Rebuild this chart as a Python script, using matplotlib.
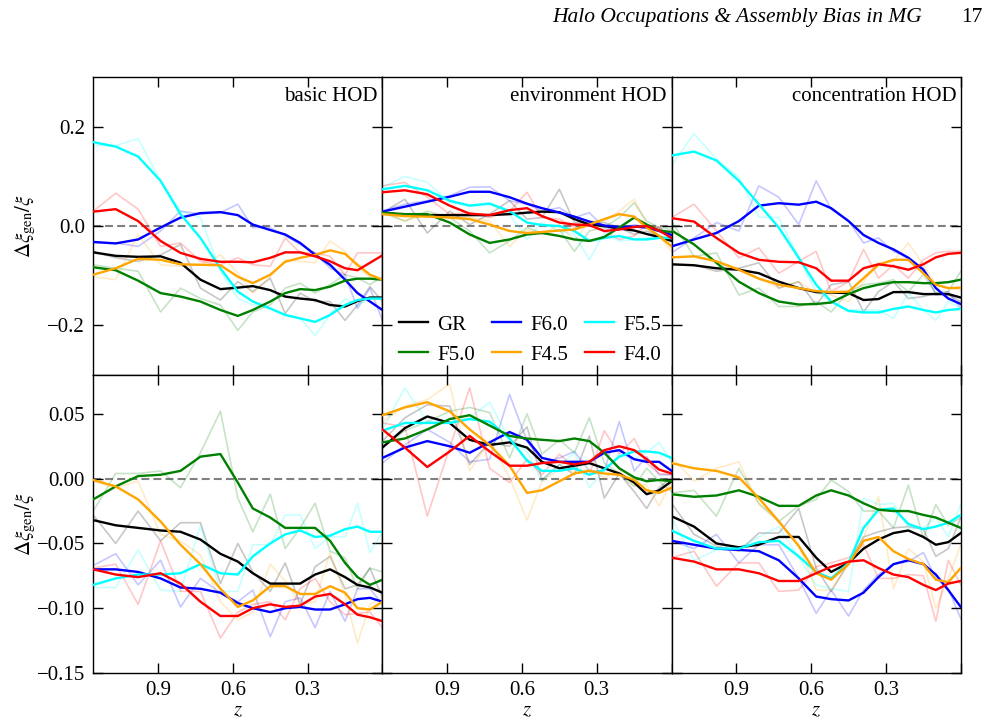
import matplotlib
matplotlib.use('Agg')
import matplotlib.pyplot as plt

plt.rcParams['font.family'] = ['Liberation Serif', 'DejaVu Serif']
plt.rcParams['mathtext.fontset'] = 'stix'
plt.rcParams['axes.unicode_minus'] = True

# ---------------- data ----------------
z = [1.16, 1.07, 0.98, 0.89, 0.81, 0.73, 0.65, 0.58, 0.52, 0.45,
     0.39, 0.33, 0.27, 0.21, 0.15, 0.10, 0.05, 0.00]

models = ['GR', 'F6.0', 'F5.5', 'F5.0', 'F4.5', 'F4.0']
colors = ['black', 'blue', 'cyan', 'green', 'orange', 'red']
panel_titles = ['basic HOD', 'environment HOD', 'concentration HOD']

top_yticks = [-0.2, 0.0, 0.2]
top_yticklabels = ['\u22120.2', '0.0', '0.2']
bot_yticks = [-0.15, -0.10, -0.05, 0.00, 0.05]
bot_yticklabels = ['\u22120.15', '\u22120.10', '\u22120.05', '0.00', '0.05']
xticks = [0.9, 0.6, 0.3, 0.0]
xticklabels = ['0.9', '0.6', '0.3', '']

# top row, basic HOD
tb_gr = [-0.053, -0.060, -0.062, -0.061, -0.074, -0.108, -0.127, -0.124, -0.121, -0.129, -0.142, -0.146, -0.149, -0.159, -0.162, -0.151, -0.144, -0.144]
tb_gr_raw = [-0.051, -0.064, -0.071, -0.058, -0.037, -0.125, -0.149, -0.112, -0.132, -0.105, -0.176, -0.135, -0.152, -0.152, -0.190, -0.159, -0.122, -0.152]
tb_f60 = [-0.032, -0.035, -0.027, -0.003, 0.017, 0.026, 0.028, 0.022, 0.003, -0.008, -0.017, -0.034, -0.058, -0.078, -0.108, -0.135, -0.152, -0.169]
tb_f60_raw = [-0.034, -0.034, -0.041, -0.010, 0.030, 0.024, 0.027, 0.044, -0.003, -0.003, -0.020, -0.037, -0.054, -0.085, -0.098, -0.166, -0.125, -0.190]
tb_f55 = [0.169, 0.160, 0.140, 0.091, 0.024, -0.024, -0.085, -0.132, -0.152, -0.166, -0.179, -0.186, -0.193, -0.179, -0.159, -0.149, -0.146, -0.146]
tb_f55_raw = [0.162, 0.162, 0.176, 0.091, 0.030, 0.017, -0.091, -0.146, -0.159, -0.166, -0.179, -0.186, -0.220, -0.179, -0.146, -0.159, -0.146, -0.146]
tb_f50 = [-0.083, -0.089, -0.110, -0.135, -0.142, -0.152, -0.169, -0.181, -0.169, -0.152, -0.135, -0.127, -0.129, -0.122, -0.110, -0.106, -0.106, -0.108]
tb_f50_raw = [-0.078, -0.085, -0.091, -0.173, -0.125, -0.146, -0.159, -0.210, -0.173, -0.159, -0.125, -0.115, -0.135, -0.118, -0.098, -0.105, -0.118, -0.102]
tb_f45 = [-0.098, -0.085, -0.066, -0.068, -0.077, -0.078, -0.079, -0.102, -0.115, -0.098, -0.072, -0.064, -0.058, -0.049, -0.056, -0.078, -0.098, -0.108]
tb_f45_raw = [-0.102, -0.108, -0.017, -0.078, -0.081, -0.078, -0.058, -0.095, -0.135, -0.102, -0.068, -0.071, -0.074, -0.030, -0.051, -0.085, -0.102, -0.108]
tb_f40 = [0.029, 0.034, 0.010, -0.030, -0.054, -0.066, -0.072, -0.072, -0.073, -0.064, -0.053, -0.053, -0.061, -0.071, -0.085, -0.089, -0.074, -0.059]
tb_f40_raw = [0.030, 0.066, 0.034, -0.041, -0.034, -0.071, -0.078, -0.064, -0.078, -0.081, -0.024, -0.054, -0.054, -0.061, -0.098, -0.054, -0.054, -0.054]

# top row, environment HOD
te_gr = [0.027, 0.022, 0.022, 0.022, 0.022, 0.022, 0.024, 0.027, 0.029, 0.028, 0.014, 0.003, 0.0, -0.005, -0.009, -0.016, -0.022, -0.030]
te_gr_raw = [0.027, 0.054, -0.014, 0.030, 0.003, 0.024, 0.051, 0.014, 0.017, 0.074, 0.007, 0.007, 0.007, -0.003, -0.017, -0.010, -0.020, -0.027]
te_f60 = [0.029, 0.039, 0.049, 0.059, 0.069, 0.069, 0.058, 0.045, 0.036, 0.027, 0.019, 0.009, 0.001, -0.002, -0.001, -0.003, -0.010, -0.018]
te_f60_raw = [0.030, 0.044, 0.051, 0.061, 0.078, 0.079, 0.051, 0.044, 0.030, 0.037, 0.017, 0.027, -0.003, -0.007, 0.003, -0.003, -0.003, -0.027]
te_f55 = [0.074, 0.081, 0.072, 0.051, 0.041, 0.045, 0.030, 0.007, 0.002, 0.0, -0.010, -0.030, -0.024, -0.020, -0.027, -0.027, -0.024, -0.024]
te_f55_raw = [0.078, 0.100, 0.088, 0.047, 0.041, 0.047, 0.024, -0.027, 0.007, -0.010, -0.017, -0.068, -0.014, -0.030, -0.027, -0.024, -0.024, -0.030]
te_f50 = [0.027, 0.024, 0.024, 0.007, -0.017, -0.034, -0.027, -0.017, -0.014, -0.020, -0.027, -0.030, -0.022, -0.003, 0.017, 0.003, -0.009, -0.012]
te_f50_raw = [0.027, 0.010, 0.030, 0.017, -0.010, -0.054, -0.030, -0.003, -0.014, -0.007, -0.051, -0.010, -0.003, 0.017, 0.047, 0.010, -0.003, -0.007]
te_f45 = [0.024, 0.020, 0.019, 0.017, 0.014, 0.003, -0.010, -0.014, -0.012, -0.009, -0.007, 0.003, 0.014, 0.024, 0.019, -0.003, -0.020, -0.041]
te_f45_raw = [0.030, 0.010, 0.024, 0.020, 0.017, 0.010, -0.041, -0.007, -0.017, 0.003, -0.030, 0.010, 0.010, 0.030, 0.054, 0.003, -0.020, -0.051]
te_f40 = [0.068, 0.072, 0.064, 0.041, 0.025, 0.022, 0.032, 0.036, 0.020, 0.007, 0.003, 0.002, -0.010, -0.007, -0.002, 0.0, -0.009, -0.024]
te_f40_raw = [0.081, 0.088, 0.058, 0.024, 0.027, 0.017, 0.030, 0.068, 0.017, 0.014, -0.003, 0.0, -0.010, -0.027, -0.020, 0.003, -0.003, -0.024]

# top row, concentration HOD
tc_gr = [-0.077, -0.079, -0.085, -0.088, -0.095, -0.112, -0.125, -0.133, -0.134, -0.135, -0.149, -0.147, -0.133, -0.133, -0.137, -0.137, -0.137, -0.144]
tc_gr_raw = [-0.078, -0.078, -0.091, -0.085, -0.074, -0.125, -0.112, -0.159, -0.118, -0.112, -0.173, -0.132, -0.112, -0.146, -0.142, -0.135, -0.139, -0.152]
tc_f60 = [-0.041, -0.027, -0.014, 0.010, 0.041, 0.046, 0.043, 0.049, 0.036, 0.010, -0.018, -0.034, -0.047, -0.064, -0.088, -0.125, -0.146, -0.157]
tc_f60_raw = [-0.054, -0.024, 0.007, -0.010, 0.081, 0.058, 0.003, 0.091, 0.034, 0.010, -0.034, -0.024, -0.051, -0.064, -0.085, -0.139, -0.132, -0.166]
tc_f55 = [0.142, 0.150, 0.132, 0.091, 0.044, -0.003, -0.064, -0.118, -0.152, -0.171, -0.174, -0.174, -0.167, -0.162, -0.169, -0.174, -0.169, -0.167]
tc_f55_raw = [0.122, 0.186, 0.135, 0.098, 0.018, 0.017, -0.064, -0.132, -0.152, -0.169, -0.169, -0.169, -0.186, -0.135, -0.169, -0.190, -0.152, -0.166]
tc_f50 = [-0.009, -0.037, -0.074, -0.112, -0.135, -0.152, -0.158, -0.157, -0.154, -0.137, -0.125, -0.118, -0.113, -0.113, -0.115, -0.115, -0.113, -0.108]
tc_f50_raw = [0.010, -0.061, -0.054, -0.139, -0.125, -0.162, -0.162, -0.152, -0.173, -0.132, -0.118, -0.115, -0.108, -0.132, -0.098, -0.135, -0.132, -0.091]
tc_f45 = [-0.063, -0.061, -0.071, -0.088, -0.106, -0.118, -0.125, -0.131, -0.133, -0.132, -0.105, -0.078, -0.068, -0.068, -0.095, -0.118, -0.125, -0.124]
tc_f45_raw = [-0.064, -0.061, -0.071, -0.085, -0.105, -0.125, -0.112, -0.135, -0.139, -0.152, -0.112, -0.074, -0.071, -0.034, -0.078, -0.118, -0.125, -0.129]
tc_f40 = [0.016, 0.009, -0.024, -0.054, -0.068, -0.072, -0.073, -0.085, -0.110, -0.110, -0.085, -0.077, -0.081, -0.088, -0.077, -0.063, -0.056, -0.054]
tc_f40_raw = [0.017, 0.044, -0.010, -0.064, -0.044, -0.095, -0.071, -0.051, -0.132, -0.112, -0.047, -0.105, -0.078, -0.105, -0.068, -0.054, -0.051, -0.051]

# bottom row, basic HOD
bb_gr = [-0.032, -0.036, -0.038, -0.040, -0.041, -0.047, -0.058, -0.064, -0.073, -0.081, -0.081, -0.081, -0.074, -0.070, -0.076, -0.082, -0.084, -0.088]
bb_gr_raw = [-0.028, -0.050, -0.025, -0.048, -0.034, -0.034, -0.081, -0.050, -0.072, -0.087, -0.065, -0.097, -0.068, -0.060, -0.085, -0.082, -0.069, -0.092]
bb_f60 = [-0.070, -0.070, -0.072, -0.077, -0.084, -0.085, -0.088, -0.096, -0.100, -0.103, -0.100, -0.099, -0.101, -0.101, -0.097, -0.093, -0.092, -0.095]
bb_f60_raw = [-0.067, -0.058, -0.082, -0.063, -0.099, -0.077, -0.088, -0.095, -0.086, -0.122, -0.095, -0.092, -0.115, -0.087, -0.110, -0.085, -0.085, -0.097]
bb_f55 = [-0.082, -0.077, -0.074, -0.074, -0.073, -0.066, -0.073, -0.074, -0.060, -0.050, -0.043, -0.040, -0.045, -0.044, -0.039, -0.037, -0.041, -0.041]
bb_f55_raw = [-0.084, -0.084, -0.055, -0.086, -0.087, -0.036, -0.087, -0.087, -0.051, -0.051, -0.028, -0.028, -0.054, -0.045, -0.045, -0.019, -0.057, -0.041]
bb_f50 = [-0.016, -0.006, 0.002, 0.003, 0.006, 0.017, 0.019, -0.003, -0.023, -0.030, -0.038, -0.038, -0.038, -0.048, -0.065, -0.076, -0.082, -0.078]
bb_f50_raw = [-0.025, 0.004, 0.004, 0.006, -0.007, 0.020, 0.052, -0.015, -0.041, -0.012, -0.054, -0.038, -0.019, -0.056, -0.061, -0.085, -0.069, -0.072]
bb_f45 = [-0.001, -0.006, -0.016, -0.033, -0.051, -0.066, -0.085, -0.099, -0.094, -0.083, -0.083, -0.089, -0.089, -0.083, -0.088, -0.100, -0.101, -0.095]
bb_f45_raw = [-0.002, -0.007, -0.002, -0.043, -0.048, -0.059, -0.095, -0.109, -0.103, -0.066, -0.079, -0.097, -0.095, -0.057, -0.090, -0.127, -0.097, -0.092]
bb_f40 = [-0.070, -0.074, -0.076, -0.073, -0.081, -0.095, -0.106, -0.106, -0.100, -0.097, -0.099, -0.098, -0.091, -0.089, -0.097, -0.105, -0.107, -0.110]
bb_f40_raw = [-0.069, -0.066, -0.097, -0.048, -0.087, -0.087, -0.123, -0.103, -0.097, -0.095, -0.109, -0.085, -0.077, -0.095, -0.105, -0.104, -0.103, -0.115]

# bottom row, environment HOD
be_gr = [0.024, 0.039, 0.048, 0.043, 0.030, 0.026, 0.028, 0.024, 0.013, 0.008, 0.010, 0.012, 0.008, 0.004, -0.003, -0.012, -0.009, -0.002]
be_gr_raw = [0.029, 0.047, 0.057, 0.056, 0.011, 0.028, 0.025, 0.040, -0.001, 0.011, 0.003, 0.033, -0.015, 0.004, -0.010, -0.023, -0.007, 0.001]
be_f60 = [0.016, 0.024, 0.029, 0.025, 0.020, 0.028, 0.036, 0.030, 0.016, 0.013, 0.013, 0.013, 0.020, 0.022, 0.015, 0.013, 0.013, 0.006]
be_f60_raw = [0.012, 0.026, 0.038, 0.028, 0.013, 0.015, 0.065, 0.029, 0.012, 0.016, 0.021, 0.006, 0.006, 0.044, 0.006, 0.017, 0.003, 0.003]
be_f55 = [0.037, 0.043, 0.043, 0.043, 0.046, 0.044, 0.031, 0.014, 0.006, 0.006, 0.008, 0.003, 0.007, 0.017, 0.021, 0.021, 0.020, 0.016]
be_f55_raw = [0.038, 0.070, 0.044, 0.044, 0.047, 0.059, 0.030, 0.021, -0.002, 0.010, 0.020, -0.007, 0.006, 0.019, 0.015, 0.020, 0.028, 0.013]
be_f50 = [0.028, 0.031, 0.038, 0.046, 0.049, 0.041, 0.033, 0.031, 0.030, 0.029, 0.031, 0.029, 0.020, 0.008, 0.001, -0.002, -0.001, -0.002]
be_f50_raw = [0.024, 0.037, 0.044, 0.052, 0.055, 0.051, 0.016, 0.050, 0.019, 0.030, 0.020, 0.047, 0.012, 0.004, -0.006, 0.008, -0.002, -0.010]
be_f45 = [0.049, 0.055, 0.059, 0.052, 0.038, 0.026, 0.010, -0.011, -0.009, -0.002, 0.004, 0.006, 0.004, 0.003, -0.001, -0.009, -0.011, -0.007]
be_f45_raw = [0.044, 0.056, 0.061, 0.073, 0.006, 0.029, 0.001, -0.032, -0.002, 0.007, 0.006, 0.007, 0.001, 0.006, -0.005, -0.005, -0.021, -0.002]
be_f40 = [0.038, 0.024, 0.009, 0.021, 0.033, 0.021, 0.010, 0.010, 0.012, 0.013, 0.011, 0.013, 0.022, 0.025, 0.022, 0.015, 0.007, 0.004]
be_f40_raw = [0.043, 0.040, -0.029, 0.024, 0.070, 0.008, -0.003, 0.015, 0.003, 0.019, 0.008, 0.003, 0.037, 0.019, 0.031, 0.012, 0.004, 0.003]

# bottom row, concentration HOD
bc_gr = [-0.029, -0.037, -0.050, -0.053, -0.051, -0.045, -0.045, -0.061, -0.072, -0.065, -0.054, -0.047, -0.042, -0.040, -0.045, -0.051, -0.049, -0.042]
bc_gr_raw = [-0.019, -0.043, -0.052, -0.056, -0.042, -0.042, -0.023, -0.069, -0.087, -0.065, -0.045, -0.041, -0.038, -0.037, -0.039, -0.060, -0.054, -0.030]
bc_f60 = [-0.048, -0.051, -0.054, -0.055, -0.056, -0.063, -0.077, -0.091, -0.093, -0.094, -0.088, -0.076, -0.066, -0.063, -0.066, -0.074, -0.086, -0.099]
bc_f60_raw = [-0.048, -0.054, -0.043, -0.065, -0.051, -0.051, -0.077, -0.104, -0.086, -0.106, -0.086, -0.074, -0.066, -0.064, -0.057, -0.077, -0.085, -0.108]
bc_f55 = [-0.040, -0.048, -0.054, -0.054, -0.049, -0.048, -0.060, -0.072, -0.077, -0.065, -0.038, -0.024, -0.023, -0.035, -0.039, -0.037, -0.034, -0.028]
bc_f55_raw = [-0.030, -0.063, -0.055, -0.054, -0.045, -0.037, -0.061, -0.082, -0.085, -0.087, -0.015, -0.020, -0.019, -0.038, -0.038, -0.030, -0.045, -0.020]
bc_f50 = [-0.012, -0.014, -0.013, -0.009, -0.014, -0.021, -0.021, -0.013, -0.009, -0.013, -0.019, -0.024, -0.025, -0.025, -0.028, -0.030, -0.034, -0.038]
bc_f50_raw = [-0.011, -0.009, -0.029, 0.008, -0.019, -0.033, -0.021, -0.016, -0.001, -0.010, -0.025, -0.025, -0.038, -0.005, -0.046, -0.020, -0.036, -0.030]
bc_f45 = [0.012, 0.008, 0.006, 0.001, -0.015, -0.033, -0.052, -0.073, -0.078, -0.066, -0.048, -0.045, -0.056, -0.062, -0.066, -0.078, -0.080, -0.069]
bc_f45_raw = [0.017, -0.002, 0.008, 0.013, -0.020, -0.033, -0.051, -0.086, -0.086, -0.066, -0.046, -0.014, -0.085, -0.054, -0.064, -0.100, -0.077, -0.051]
bc_f40 = [-0.061, -0.064, -0.070, -0.070, -0.073, -0.079, -0.079, -0.073, -0.068, -0.064, -0.063, -0.069, -0.074, -0.076, -0.082, -0.086, -0.081, -0.079]
bc_f40_raw = [-0.061, -0.056, -0.083, -0.065, -0.065, -0.087, -0.086, -0.068, -0.065, -0.061, -0.051, -0.077, -0.077, -0.074, -0.075, -0.110, -0.063, -0.082]

# ---------------- assembly ----------------
smooth = [
    [[tb_gr, tb_f60, tb_f55, tb_f50, tb_f45, tb_f40],
     [te_gr, te_f60, te_f55, te_f50, te_f45, te_f40],
     [tc_gr, tc_f60, tc_f55, tc_f50, tc_f45, tc_f40]],
    [[bb_gr, bb_f60, bb_f55, bb_f50, bb_f45, bb_f40],
     [be_gr, be_f60, be_f55, be_f50, be_f45, be_f40],
     [bc_gr, bc_f60, bc_f55, bc_f50, bc_f45, bc_f40]],
]
raw = [
    [[tb_gr_raw, tb_f60_raw, tb_f55_raw, tb_f50_raw, tb_f45_raw, tb_f40_raw],
     [te_gr_raw, te_f60_raw, te_f55_raw, te_f50_raw, te_f45_raw, te_f40_raw],
     [tc_gr_raw, tc_f60_raw, tc_f55_raw, tc_f50_raw, tc_f45_raw, tc_f40_raw]],
    [[bb_gr_raw, bb_f60_raw, bb_f55_raw, bb_f50_raw, bb_f45_raw, bb_f40_raw],
     [be_gr_raw, be_f60_raw, be_f55_raw, be_f50_raw, be_f45_raw, be_f40_raw],
     [bc_gr_raw, bc_f60_raw, bc_f55_raw, bc_f50_raw, bc_f45_raw, bc_f40_raw]],
]

fig, axes = plt.subplots(2, 3, figsize=(9.92, 7.27), dpi=100,
                         sharex=True, sharey='row')
fig.subplots_adjust(left=0.094, right=0.9685, top=0.894, bottom=0.0743,
                    wspace=0, hspace=0)

FS = 15
handles = {}
for r in range(2):
    for c in range(3):
        ax = axes[r, c]
        ax.axhline(0.0, color='gray', lw=1.5, ls=(0, (3.8, 2.0)), zorder=1)
        for k in range(6):
            ax.plot(z, raw[r][c][k], color=colors[k], lw=1.2, alpha=0.22, zorder=2)
        for k in range(6):
            ln, = ax.plot(z, smooth[r][c][k], color=colors[k], lw=1.7, zorder=3,
                          label=models[k])
            handles[models[k]] = ln
        ax.tick_params(direction='in', top=True, right=True, length=7,
                       width=1.0, labelsize=FS, pad=6)
        for sp in ax.spines.values():
            sp.set_linewidth(1.0)
        if r == 0:
            ax.text(0.984, 0.966, panel_titles[c], transform=ax.transAxes,
                    ha='right', va='top', fontsize=FS)

axes[0, 0].set_xlim(1.16, 0.0)
axes[0, 0].set_xticks(xticks)
axes[0, 0].set_xticklabels(xticklabels)
axes[0, 0].set_ylim(-0.3, 0.3)
axes[0, 0].set_yticks(top_yticks)
axes[0, 0].set_yticklabels(top_yticklabels)
axes[1, 0].set_ylim(-0.15, 0.08)
axes[1, 0].set_yticks(bot_yticks)
axes[1, 0].set_yticklabels(bot_yticklabels)

for r in range(2):
    axes[r, 0].set_ylabel(r'$\Delta\xi_{\rm gen}/\xi$', fontsize=FS)
    axes[r, 0].yaxis.set_label_coords(-0.19, 0.5)
for c in range(3):
    axes[1, c].set_xlabel(r'$z$', fontsize=FS, labelpad=1)

# legend rows: GR F6.0 F5.5 / F5.0 F4.5 F4.0 (matplotlib fills column-wise)
leg_order = ['GR', 'F5.0', 'F6.0', 'F4.5', 'F5.5', 'F4.0']
axes[0, 1].legend([handles[m] for m in leg_order], leg_order,
                  loc='lower right', ncol=3, frameon=False, fontsize=FS,
                  handlelength=1.4, handletextpad=0.45, columnspacing=0.8,
                  labelspacing=0.5, borderaxespad=0.3, borderpad=0.2)

fig.text(0.9294, 0.976, 'Halo Occupations & Assembly Bias in MG',
         ha='right', va='center', style='italic', fontsize=15.5)
fig.text(0.99, 0.976, '17', ha='right', va='center', fontsize=15.5)

fig.savefig('out.png', dpi=100)
